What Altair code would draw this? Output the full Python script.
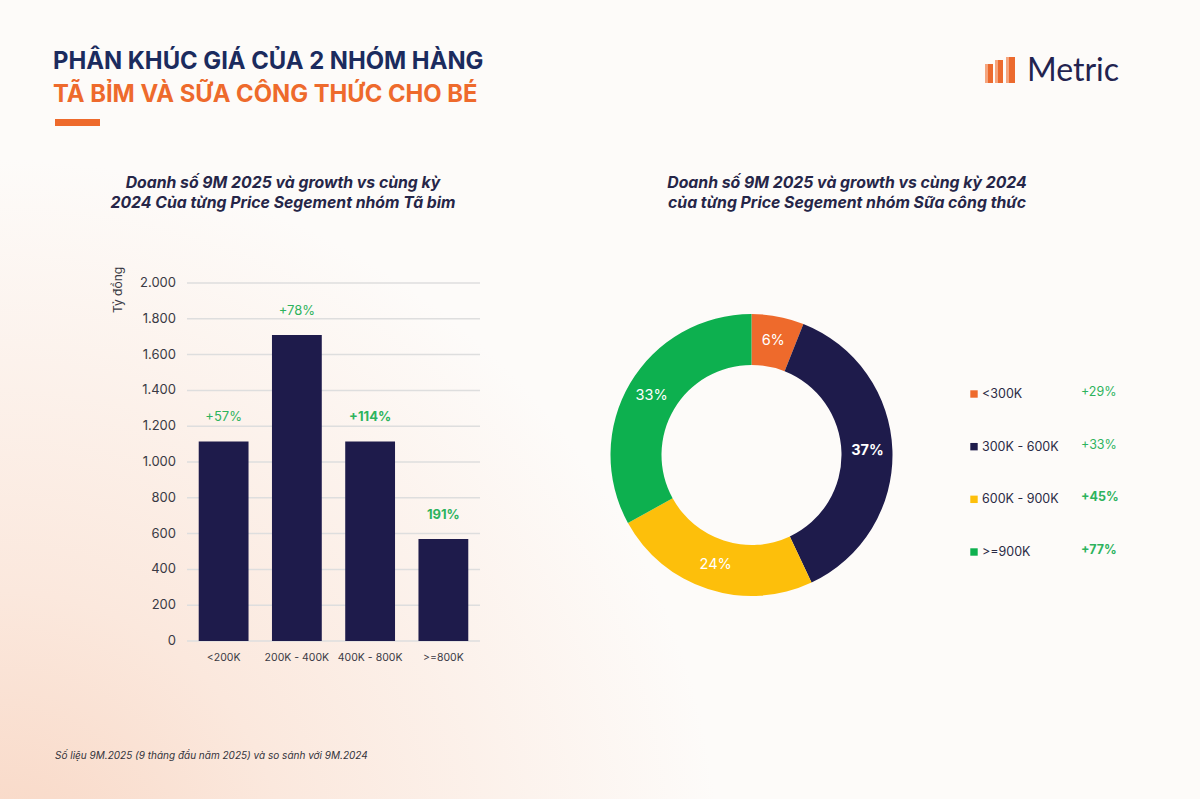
import altair as alt
import pandas as pd

W, H = 1200, 799
FONT = "Inter"
NAVY = "#1e1b4b"
GREEN = "#2db35d"
TEXT = "#3a3a44"

# Tã bỉm: 9M 2025 revenue (tỷ đồng) and growth vs 9M 2024 per price segment
diaper_segments = ["<200K", "200K - 400K", "400K - 800K", ">=800K"]
diaper_revenue = [1115, 1710, 1115, 570]
diaper_growth = ["+57%", "+78%", "+114%", "191%"]
diaper_growth_bold = [False, False, True, True]
y_ticks = [0, 200, 400, 600, 800, 1000, 1200, 1400, 1600, 1800, 2000]

# Sữa công thức: share of 9M 2025 revenue and growth vs 9M 2024 per price segment
milk_segments = ["<300K", "300K - 600K", "600K - 900K", ">=900K"]
milk_share = [6, 37, 24, 33]
milk_share_bold = [False, True, False, False]
milk_growth = ["+29%", "+33%", "+45%", "+77%"]
milk_growth_bold = [False, False, True, True]
milk_colors = ["#ee6a2c", "#1e1b4b", "#fdbf0b", "#0db04f"]

title_lines = ["PHÂN KHÚC GIÁ CỦA 2 NHÓM HÀNG", "TÃ BỈM VÀ SỮA CÔNG THỨC CHO BÉ"]
left_subtitle = ["Doanh số 9M 2025 và growth vs cùng kỳ",
                 "2024 Của từng Price Segement nhóm Tã bim"]
right_subtitle = ["Doanh số 9M 2025 và growth vs cùng kỳ 2024",
                  "của từng Price Segement nhóm Sữa công thức"]
footnote = "Số liệu 9M.2025 (9 tháng đầu năm 2025) và so sánh với 9M.2024"
y_title = "Tỷ đồng"
brand = "Metric"

one = pd.DataFrame({"k": [0]})


def label(text, x, y, size, color, weight="normal", style="normal",
          align="left", angle=0, font=FONT):
    return alt.Chart(one).mark_text(
        fontSize=size, color=color, fontWeight=weight, fontStyle=style,
        align=align, baseline="middle", angle=angle, font=font,
    ).encode(x=alt.value(x), y=alt.value(y), text=alt.value(text))


def box(x, x2, y, y2, fill):
    return alt.Chart(one).mark_rect(fill=fill).encode(
        x=alt.value(x), x2=alt.value(x2), y=alt.value(y), y2=alt.value(y2))


# ---------- page background with a warm haze along the lower left ----------
background = alt.Chart(one).mark_rect(
    fill={
        "gradient": "radial",
        "x1": 0.0, "y1": 0.9, "r1": 0.0,
        "x2": 0.0, "y2": 0.9, "r2": 0.6,
        "stops": [
            {"offset": 0.0, "color": "#f8d6c3"},
            {"offset": 0.4, "color": "#fbe8dd"},
            {"offset": 1.0, "color": "#fdfbf9"},
        ],
    }
).encode(x=alt.value(0), x2=alt.value(W), y=alt.value(0), y2=alt.value(H))

# ---------- header ----------
header = [
    label(title_lines[0], 53, 62, 23.8, "#1b2b5e", weight="bold"),
    label(title_lines[1], 53, 95, 23.8, "#ee6a2c", weight="bold"),
    box(55, 100, 119, 126, "#ee6a2c"),
    # brand mark: three rising bars
    box(985, 988, 64, 83, "#f5a57e"), box(988, 993, 64, 83, "#ec6a2e"),
    box(995, 998, 60, 83, "#f5a57e"), box(998, 1003, 60, 83, "#ec6a2e"),
    box(1006, 1009, 57, 83, "#f5a57e"), box(1009, 1015, 57, 83, "#ec6a2e"),
    label(brand, 1027, 71, 32, "#23234f", font="Lato"),
    label(left_subtitle[0], 283, 183, 15.8, "#262648", weight="bold", style="italic", align="center"),
    label(left_subtitle[1], 283, 203, 15.8, "#262648", weight="bold", style="italic", align="center"),
    label(right_subtitle[0], 847, 183, 15.8, "#262648", weight="bold", style="italic", align="center"),
    label(right_subtitle[1], 847, 203, 15.8, "#262648", weight="bold", style="italic", align="center"),
    label(footnote, 55, 756, 10, "#33333b", style="italic"),
    label(y_title, 118, 313, 12, TEXT, angle=270),
]

# ---------- bar chart: Tã bỉm ----------
diaper = pd.DataFrame({
    "segment": diaper_segments,
    "revenue": diaper_revenue,
    "growth": diaper_growth,
    "bold": diaper_growth_bold,
})
ticks = pd.DataFrame({"v": y_ticks})

xs = alt.Scale(domain=diaper_segments, range=[187, 480],
               paddingInner=0.32, paddingOuter=0.16)
ys = alt.Scale(domain=[0, 2000], range=[641, 283], nice=False)

grid = alt.Chart(ticks).mark_rule(color="#dedede", strokeWidth=1.5).encode(
    y=alt.Y("v:Q", scale=ys, axis=None),
    x=alt.value(187), x2=alt.value(480),
)
tick_labels = alt.Chart(ticks).transform_calculate(
    t="replace(format(datum.v, ','), ',', '.')"
).mark_text(align="right", baseline="middle", fontSize=13, color=TEXT, font=FONT).encode(
    y=alt.Y("v:Q", scale=ys, axis=None),
    x=alt.value(176),
    text="t:N",
)
bars = alt.Chart(diaper).mark_bar(color=NAVY).encode(
    x=alt.X("segment:N", scale=xs, axis=None, sort=diaper_segments),
    y=alt.Y("revenue:Q", scale=ys, axis=None),
)
cat_labels = alt.Chart(diaper).mark_text(
    baseline="middle", fontSize=10.5, color=TEXT, font=FONT
).encode(
    x=alt.X("segment:N", scale=xs, axis=None, sort=diaper_segments),
    y=alt.value(658),
    text="segment:N",
)


def growth_layer(bold):
    return alt.Chart(diaper).transform_filter(
        "datum.bold" if bold else "!datum.bold"
    ).mark_text(
        dy=-24, fontSize=13, color=GREEN, font=FONT,
        fontWeight="bold" if bold else "normal", baseline="middle",
    ).encode(
        x=alt.X("segment:N", scale=xs, axis=None, sort=diaper_segments),
        y=alt.Y("revenue:Q", scale=ys, axis=None),
        text="growth:N",
    )


bar_chart = alt.layer(grid, tick_labels, bars, cat_labels,
                      growth_layer(False), growth_layer(True))

# ---------- donut: Sữa công thức ----------
milk = pd.DataFrame({
    "idx": list(range(len(milk_segments))),
    "segment": milk_segments,
    "share": milk_share,
    "share_bold": milk_share_bold,
    "growth": milk_growth,
    "growth_bold": milk_growth_bold,
})
CX, CY = 751.5, 455
ts = alt.Scale(domain=[0, 100])
cs = alt.Scale(domain=milk_segments, range=milk_colors)

arcs = alt.Chart(milk).mark_arc(innerRadius=90, outerRadius=141).encode(
    theta=alt.Theta("share:Q", stack=True, scale=ts),
    color=alt.Color("segment:N", scale=cs, legend=None),
    order=alt.Order("idx:Q"),
    x=alt.value(CX), y=alt.value(CY),
)


def share_labels(bold):
    return alt.Chart(milk).transform_window(
        cum="sum(share)", sort=[alt.SortField("idx")]
    ).transform_calculate(
        mid="datum.cum - datum.share / 2",
        t="datum.share + '%'",
    ).transform_filter(
        "datum.share_bold" if bold else "!datum.share_bold"
    ).mark_text(
        radius=116, fontSize=14.5, color="white", font=FONT,
        fontWeight="bold" if bold else "normal", baseline="middle",
    ).encode(
        theta=alt.Theta("mid:Q", scale=ts, stack=None),
        x=alt.value(CX), y=alt.value(CY),
        text="t:N",
    )


donut = alt.layer(arcs, share_labels(False), share_labels(True))

# ---------- legend rows with growth ----------
ls = alt.Scale(type="point", domain=milk_segments, range=[394, 552], padding=0)
swatches = alt.Chart(milk).mark_square(size=55, opacity=1).encode(
    y=alt.Y("segment:N", scale=ls, axis=None),
    x=alt.value(974),
    color=alt.Color("segment:N", scale=cs, legend=None),
)
names = alt.Chart(milk).mark_text(
    align="left", baseline="middle", fontSize=12.5, color="#2b2b45", font=FONT
).encode(
    y=alt.Y("segment:N", scale=ls, axis=None),
    x=alt.value(982),
    text="segment:N",
)


def growth_rows(bold):
    return alt.Chart(milk).transform_filter(
        "datum.growth_bold" if bold else "!datum.growth_bold"
    ).mark_text(
        align="left", baseline="middle", dy=-2, fontSize=12.5, color=GREEN,
        font=FONT, fontWeight="bold" if bold else "normal",
    ).encode(
        y=alt.Y("segment:N", scale=ls, axis=None),
        x=alt.value(1081),
        text="growth:N",
    )


legend = alt.layer(swatches, names, growth_rows(False), growth_rows(True))

chart = alt.layer(
    background, *header, bar_chart, donut, legend
).resolve_scale(
    x="independent", y="independent", color="independent", theta="independent"
).properties(
    width=W, height=H, padding=0,
    autosize=alt.AutoSizeParams(type="none"),
    background="white",
).configure_view(stroke=None)

chart.save("out.html", embed_options={"renderer": "svg", "actions": False})
